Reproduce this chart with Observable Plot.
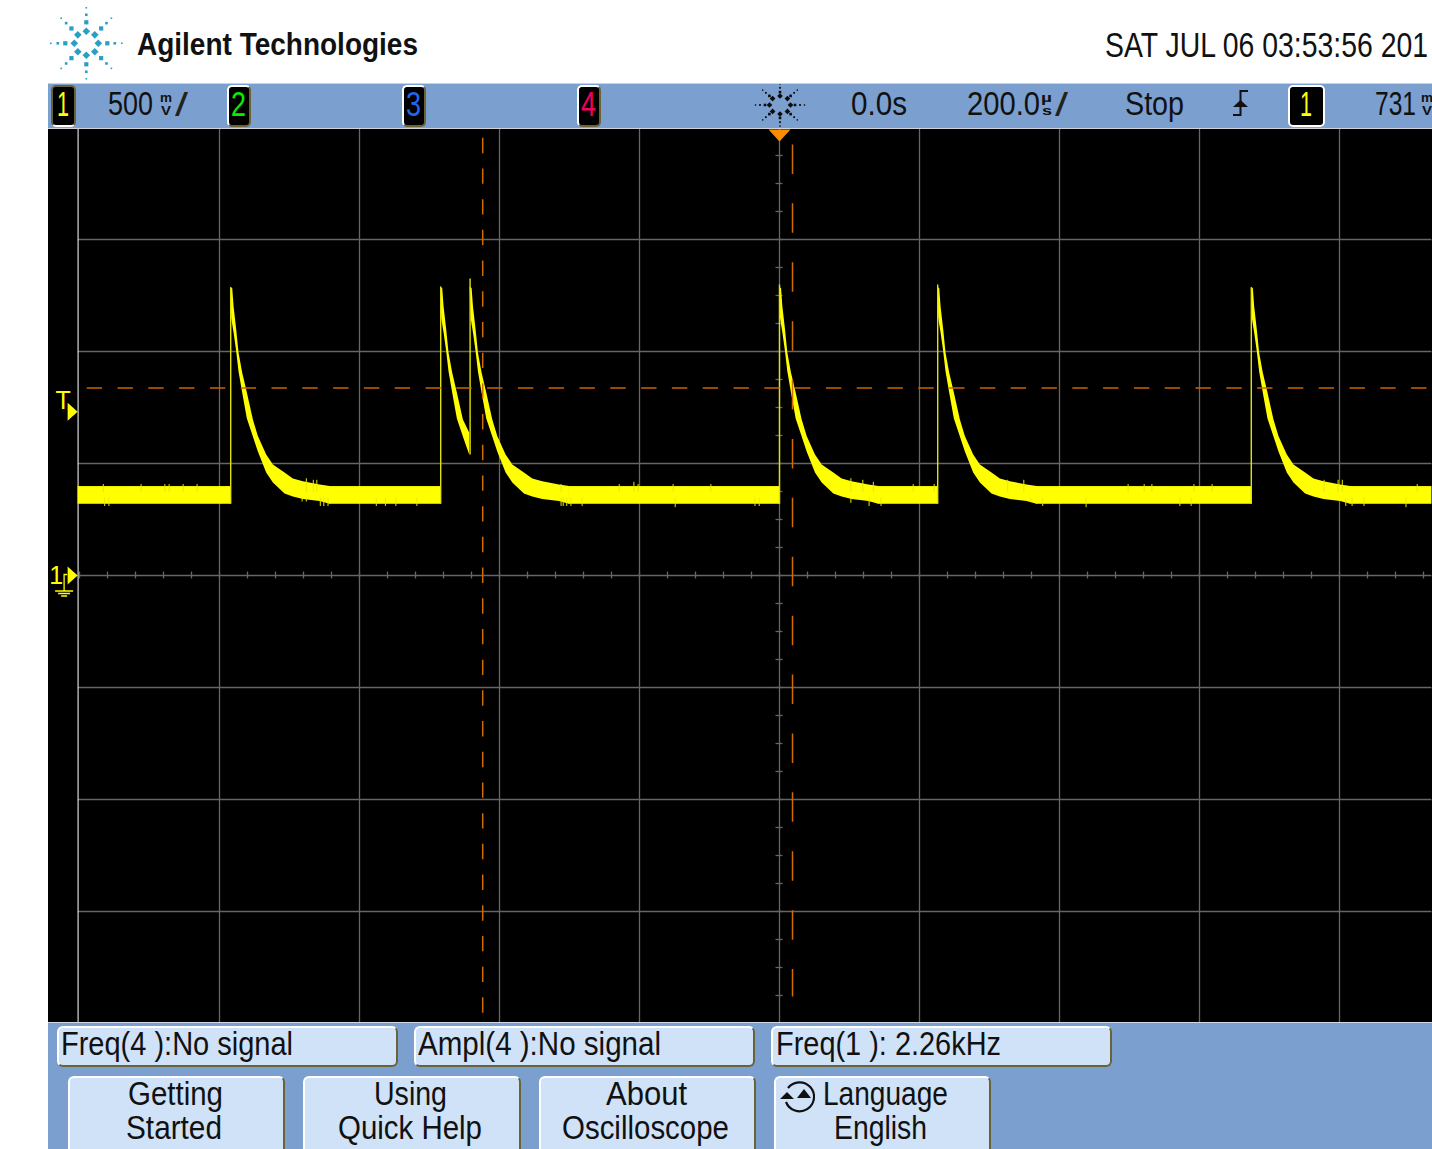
<!DOCTYPE html>
<html>
<head>
<meta charset="utf-8">
<script src="https://cdn.jsdelivr.net/npm/d3@7"></script>
<script src="https://cdn.jsdelivr.net/npm/@observablehq/plot@0.6"></script>
<style>
html,body{margin:0;padding:0;background:#fff;width:1432px;height:1149px;overflow:hidden}
#page{position:relative;width:1432px;height:1149px;overflow:hidden}
.abs{position:absolute;box-sizing:border-box}
.t{position:absolute;white-space:pre;transform-origin:0 0;font-family:"Liberation Sans Narrow","Liberation Sans",sans-serif;color:#111;line-height:1}
.bevel{border:2px solid;border-color:#fff #6b6338 #6b6338 #fff;border-radius:6px;background:#cfe2f8}
.chan{border:2px solid;border-color:#fff #6b6338 #6b6338 #fff;border-radius:5px;background:#000}
svg{display:block}
</style>
</head>
<body>
<div id="page"></div>
<script>
// ---- trace data (time in µs, level in V) ----
const pulseStartUs = [-784, -484, -442, 0, 226, 674];
const pulsePeakV   = [1.283, 1.288, 1.324, 1.297, 1.297, 1.283];
const pulseFootV   = [0.318, 0.318, 0.538, 0.318, 0.318, 0.318];
const decayUs     = [0, 1.4, 2.9, 4.8, 8.6, 11.9, 17.1, 23.8, 32.4, 39.5, 51.4, 61, 77.6, 89.5, 103.8, 127.6, 141.9];
const decayUpperV = [1.288, 1.283, 1.281, 1.2, 1.096, 0.993, 0.904, 0.815, 0.694, 0.62, 0.538, 0.493, 0.458, 0.431, 0.419, 0.404, 0.397];
const decayLowerV = [1.288, 1.15, 1.118, 1.083, 0.998, 0.908, 0.815, 0.699, 0.618, 0.551, 0.458, 0.413, 0.364, 0.35, 0.339, 0.33, 0.318];
const interruptedPulse = 1;
const interruptedSamples = 9;
const interruptedEndUs = 41.4;
const interruptedEndUpperV = 0.636;
const interruptedEndLowerV = 0.538;
const baseStartUs = [-1002, -643, -301, 141, 367, 815];
const baseEndUs   = [-783, -483, 1, 227, 675, 932];
const baseUpperV = 0.397;
const baseLowerV = 0.318;
const noiseUpUs = [-966,-912,-878,-872,-852,-832,-676,-666,-661,-312,-229,-208,-202,-152,-98,102,119,134,191,221,326,349,498,521,532,592,618,778,798,804,911];
const noiseUpV  = [.406,.406,.406,.406,.406,.406,.432,.425,.425,.406,.406,.416,.406,.406,.406,.432,.425,.416,.406,.406,.425,.425,.406,.406,.406,.406,.406,.425,.425,.425,.406];
const noiseDownUs = [-964,-958,-682,-676,-656,-651,-645,-576,-563,-548,-518,-312,-309,-304,-298,-282,-149,-35,-29,102,128,145,359,376,438,572,588,809,818,835,895];
const noiseDownV  = [.308,.308,.328,.328,.308,.308,.308,.308,.308,.308,.308,.308,.308,.308,.308,.308,.303,.308,.308,.322,.308,.308,.325,.308,.303,.308,.308,.308,.308,.308,.303];

// ---- scope settings ----
const gridUs = [-800, -600, -400, -200, 0, 200, 400, 600, 800];
const gridV = [1.5, 1, 0.5, 0, -0.5, -1, -1.5];
const minorUs = d3.range(-1000, 921, 40);
const minorV = d3.range(-1.875, 1.876, 0.125);
const triggerLevelV = 0.731;
const cursorY1V = 0.837;
const cursorX1Us = -424;
const cursorX2Us = 18.6;

// ---- rows for the marks ----
const decayRows = [];
pulseStartUs.forEach((start, p) => {
  const n = p === interruptedPulse ? interruptedSamples : decayUs.length;
  for (let k = 0; k < n; k++) {
    decayRows.push({p, x: start + decayUs[k], y1: decayUpperV[k], y2: decayLowerV[k]});
  }
  if (p === interruptedPulse) {
    decayRows.push({p, x: start + interruptedEndUs, y1: interruptedEndUpperV, y2: interruptedEndLowerV});
  }
});
const baseRows = baseStartUs.map((s, i) => ({x1: s, x2: baseEndUs[i]}));
const pulseRows = pulseStartUs.map((x, i) => ({x, peak: pulsePeakV[i], foot: pulseFootV[i]}));
const upRows = noiseUpUs.map((x, i) => ({x, y: noiseUpV[i]}));
const downRows = noiseDownUs.map((x, i) => ({x, y: noiseDownV[i]}));

const arrowSym = {draw(c){c.moveTo(-10,-9);c.lineTo(0,0);c.lineTo(-10,9);c.closePath();}};
const trigSym = {draw(c){c.moveTo(-11,0);c.lineTo(11,0);c.lineTo(0,12);c.closePath();}};
const gndSym = {draw(c){
  c.moveTo(-14,15);c.lineTo(-14,-1);c.lineTo(-11,-1);
  c.moveTo(-23,15.5);c.lineTo(-5,15.5);
  c.moveTo(-20,18);c.lineTo(-8,18);
  c.moveTo(-17,20.5);c.lineTo(-11,20.5);
}};

const YEL = "#ffff00";
const GRID = "#666666";
const narrow = '"Liberation Sans Narrow","Liberation Sans",sans-serif';

const chart = Plot.plot({
  width: 1384,
  height: 893,
  margin: 0,
  style: {background: "#000", position: "absolute", left: "48px", top: "129px"},
  x: {domain: [-1002, 932], range: [29.6, 1383.4], axis: null},
  y: {domain: [2, -2], range: [-2, 894], axis: null},
  marks: [
    Plot.ruleX(gridUs, {stroke: GRID, strokeWidth: 1.3}),
    Plot.ruleY(gridV, {x1: -1002, x2: 932, stroke: GRID, strokeWidth: 1.3}),
    Plot.ruleX(minorUs, {y1: 0.0156, y2: -0.0156, stroke: GRID, strokeWidth: 1.3}),
    Plot.ruleY(minorV, {x1: -5, x2: 5, stroke: GRID, strokeWidth: 1.3}),
    Plot.ruleX([-1002], {stroke: "#c8c8c8", strokeWidth: 1.3}),
    Plot.rect(baseRows, {x1: "x1", x2: "x2", y1: baseUpperV, y2: baseLowerV, fill: YEL}),
    Plot.areaY(decayRows, {x: "x", y1: "y1", y2: "y2", z: "p", fill: YEL}),
    Plot.ruleX(pulseRows, {x: "x", y1: "foot", y2: "peak", stroke: "#e2e200", strokeWidth: 1.4}),
    Plot.ruleX(upRows, {x: "x", y1: 0.37, y2: "y", stroke: "#e8e800", strokeWidth: 1}),
    Plot.ruleX(downRows, {x: "x", y1: 0.345, y2: "y", stroke: "#e8e800", strokeWidth: 1}),
    Plot.ruleY([cursorY1V], {x1: -989, x2: 932, stroke: "#c86400", strokeWidth: 1.3, strokeDasharray: "15.4,15.4"}),
    Plot.ruleX([cursorX1Us], {y1: 1.952, y2: -1.962, stroke: "#d06c00", strokeWidth: 1.5, strokeDasharray: "15.4,15.3"}),
    Plot.ruleX([cursorX2Us], {y1: 1.922, y2: -1.882, stroke: "#d06c00", strokeWidth: 1.5, strokeDasharray: "29.5,29.4"}),
    Plot.dot([0], {x: d => d, y: 1.991, symbol: trigSym, fill: "#ff8c00", stroke: "none", r: 5}),
    Plot.dot([triggerLevelV], {x: -1002, y: d => d, symbol: arrowSym, fill: YEL, stroke: "none", r: 5, dx: -0.5}),
    Plot.dot([0], {x: -1002, y: d => d, symbol: arrowSym, fill: YEL, stroke: "none", r: 5, dx: -0.5}),
    Plot.dot([0], {x: -1002, y: d => d, symbol: gndSym, fill: "none", stroke: YEL, strokeWidth: 1.3, r: 5}),
    Plot.text(["T"], {x: -1002, y: triggerLevelV, dx: -15, dy: -11, fill: YEL, fontSize: 25, fontFamily: narrow}),
    Plot.text(["1"], {x: -1002, y: 0, dx: -22, dy: 0, fill: YEL, fontSize: 25, fontFamily: narrow})
  ]
});

// ---- instrument chrome around the plot ----
const page = document.getElementById("page");
function box(cls, x, y, w, h, css) {
  const d = document.createElement("div");
  d.className = "abs " + cls;
  Object.assign(d.style, {left: x + "px", top: y + "px", width: w + "px", height: h + "px"}, css || {});
  page.appendChild(d);
  return d;
}
function txt(s, x, base, width, size, css) {
  const d = document.createElement("div");
  d.className = "t";
  d.textContent = s;
  Object.assign(d.style, {left: x + "px", fontSize: size + "px"}, css || {});
  page.appendChild(d);
  d.style.top = (base - size * 0.8465) + "px";
  if (width) {
    const w = d.getBoundingClientRect().width;
    d.style.transform = `scaleX(${width / w})`;
  }
  return d;
}
function svgEl(x, y, w, h, inner) {
  const d = document.createElement("div");
  d.className = "abs";
  Object.assign(d.style, {left: x + "px", top: y + "px", width: w + "px", height: h + "px"});
  d.innerHTML = `<svg width="${w}" height="${h}" viewBox="0 0 ${w} ${h}">${inner}</svg>`;
  page.appendChild(d);
}
function star(cx, cy, color, sy, radii, sizes) {
  let s = "";
  for (let a = 0; a < 8; a++) {
    const ang = a * Math.PI / 4;
    radii.forEach((r, i) => {
      const px = cx + Math.cos(ang) * r;
      const py = cy + Math.sin(ang) * r * sy;
      const rot = i === 0 ? 45 : 0;
      const q = sizes[i];
      s += `<rect x="${px - q}" y="${py - q}" width="${2 * q}" height="${2 * q}" fill="${color}" transform="rotate(${rot} ${px} ${py})"/>`;
    });
  }
  return s;
}

// header
svgEl(44, 2, 84, 82, star(42.3, 41.3, "#2a9fc4", 1, [12, 21, 28.5, 35.5], [2.7, 2.1, 1.3, 0.8]));
txt("Agilent Technologies", 137, 55, 281, 32, {fontWeight: "bold"});
txt("SAT JUL 06 03:53:56 201", 1105, 57, 323, 35);

// status bar
box("", 48, 83, 1384, 46, {background: "#7b9fcf", borderTop: "1px solid #c4d4ea", borderBottom: "1px solid #d0d4da"});
box("chan", 51, 85, 25, 42, {borderColor: "#6b6338 #6b6338 #fff #6b6338"});
box("chan", 227, 85, 24, 42);
box("chan", 402, 85, 24, 42);
box("chan", 577, 85, 24, 42);
box("chan", 1288, 85, 37, 42, {borderColor: "#fff"});
txt("1", 57, 116, 12, 35, {color: "#ffff00"});
txt("2", 231, 116, 15, 35, {color: "#00f000"});
txt("3", 406, 116, 15, 35, {color: "#2266ee"});
txt("4", 581, 116, 15, 35, {color: "#f00060"});
txt("1", 1300, 116, 12, 35, {color: "#ffff00"});

txt("500", 108, 115, 45, 34);
txt("m", 160, 102, 12, 13, {fontWeight: "bold"});
txt("V", 161, 115, 10, 13, {fontWeight: "bold"});
txt("/", 175, 116, 13, 34, {color: "#222"});
svgEl(750, 84, 60, 44, star(30, 21, "#0b0b0b", 0.86, [10.5, 15, 20, 24.5], [2, 1.3, 0.9, 0.7]));
txt("0.0s", 851, 115, 56, 34);
txt("200.0", 967, 115, 73, 34);
txt("µ", 1041, 102, 11, 13, {fontWeight: "bold"});
txt("s", 1042, 115, 10, 13, {fontWeight: "bold"});
txt("/", 1055, 116, 13, 34, {color: "#222"});
txt("Stop", 1125, 115, 59, 34);
svgEl(1230, 88, 22, 32, `<path d="M18,3H10.5V27H3" fill="none" stroke="#111" stroke-width="2"/><path d="M10.5,12L18,19H3Z" fill="#111"/>`);
txt("731", 1375, 115, 41, 34);
txt("m", 1421, 102, 12, 13, {fontWeight: "bold"});
txt("V", 1422, 115, 10, 13, {fontWeight: "bold"});

// bottom panel
box("", 48, 1022, 1384, 127, {background: "#7b9fcf", borderTop: "1px solid #ccd9ea"});
[[57, 341], [414, 341], [771, 341]].forEach(([x, w]) => box("bevel", x, 1026, w, 41));
[[68, 217], [303, 218], [539, 217], [774, 217]].forEach(([x, w]) => box("bevel", x, 1076, w, 90));
txt("Freq(4 ):No signal", 61, 1055, 232, 33);
txt("Ampl(4 ):No signal", 418, 1055, 243, 33);
txt("Freq(1 ): 2.26kHz", 776, 1055, 225, 33);
txt("Getting", 128, 1105, 95, 33);
txt("Started", 126, 1139, 96, 33);
txt("Using", 374, 1105, 73, 33);
txt("Quick Help", 338, 1139, 144, 33);
txt("About", 606, 1105, 81, 33);
txt("Oscilloscope", 562, 1139, 167, 33);
txt("Language", 823, 1105, 125, 33);
txt("English", 834, 1139, 93, 33);
svgEl(778, 1078, 42, 36, `<path d="M10,10A14.5,14.5 0 1 1 8,24" fill="none" stroke="#111" stroke-width="2.2"/><path d="M2,21L9,14L16,21Z M19,20L26,11L33,20Z" fill="#111"/>`);

page.appendChild(chart);
</script>
</body>
</html>
